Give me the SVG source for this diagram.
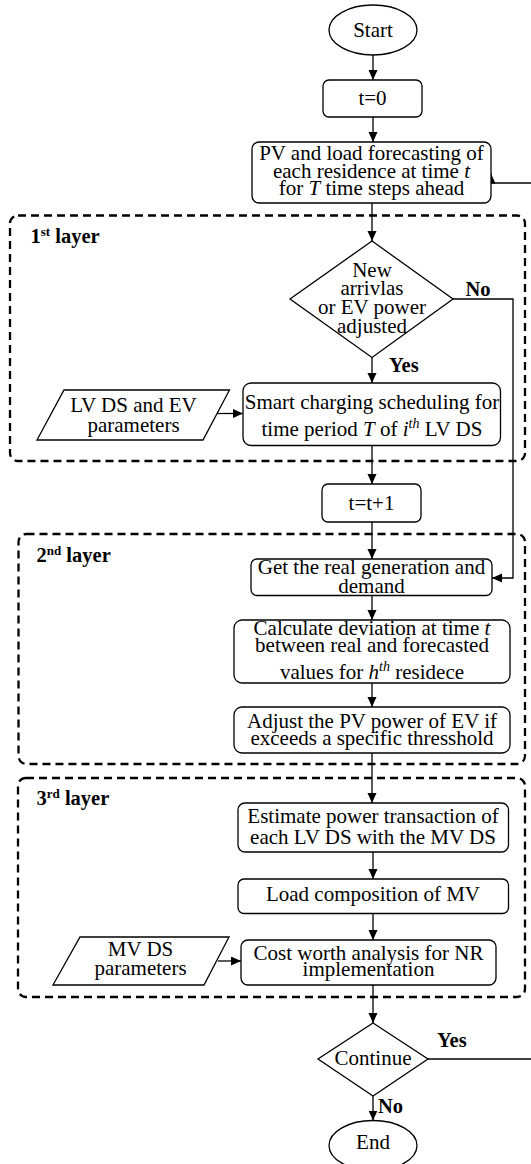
<svg xmlns="http://www.w3.org/2000/svg" width="531" height="1164" viewBox="0 0 531 1164">
<style>
.bg{fill:#fff}
.n{fill:#fff;stroke:#000;stroke-width:1.3}
.lay{fill:none;stroke:#000;stroke-width:2.3;stroke-dasharray:8 5}
.c{fill:none;stroke:#000;stroke-width:1.3}
text{font-family:"Liberation Serif","Times New Roman",serif;font-size:21px;fill:#000}
.m{text-anchor:middle}
.b{font-weight:bold;font-size:20.5px}
.i{font-style:italic}
</style>
<defs>
<marker id="ah" markerWidth="10" markerHeight="10" refX="10" refY="4.5" orient="auto" markerUnits="userSpaceOnUse"><path d="M0,0 L10,4.5 L0,9 z" fill="#000"/></marker>
</defs>
<rect class="bg" x="0" y="0" width="531" height="1164"/>

<g id="layers">
<rect class="lay" x="10" y="215.5" width="515" height="245.5" rx="8"/>
<text class="b" x="30.5" y="242.5">1<tspan dy="-7" font-size="13">st</tspan><tspan dy="7"> layer</tspan></text>
<rect class="lay" x="18.5" y="534" width="506.5" height="230" rx="8"/>
<text class="b" x="36.5" y="562">2<tspan dy="-7" font-size="13">nd</tspan><tspan dy="7"> layer</tspan></text>
<rect class="lay" x="18" y="778" width="507" height="219" rx="8"/>
<text class="b" x="36.5" y="804.5">3<tspan dy="-7" font-size="13">rd</tspan><tspan dy="7"> layer</tspan></text>
</g>

<g id="connectors">
<line class="c" x1="373" y1="55" x2="373" y2="80" marker-end="url(#ah)"/>
<line class="c" x1="373" y1="117" x2="373" y2="142" marker-end="url(#ah)"/>
<line class="c" x1="372" y1="203" x2="372" y2="241" marker-end="url(#ah)"/>
<line class="c" x1="372" y1="357.5" x2="372" y2="383" marker-end="url(#ah)"/>
<polyline class="c" points="453,299 513,299 513,578 492,578" marker-end="url(#ah)"/>
<line class="c" x1="372" y1="445.5" x2="372" y2="484" marker-end="url(#ah)"/>
<line class="c" x1="372" y1="522" x2="372" y2="559" marker-end="url(#ah)"/>
<line class="c" x1="372" y1="595.5" x2="372" y2="620" marker-end="url(#ah)"/>
<line class="c" x1="372" y1="683" x2="372" y2="707" marker-end="url(#ah)"/>
<line class="c" x1="372" y1="753" x2="372" y2="803" marker-end="url(#ah)"/>
<line class="c" x1="373" y1="852" x2="373" y2="879" marker-end="url(#ah)"/>
<line class="c" x1="373" y1="913.5" x2="373" y2="940" marker-end="url(#ah)"/>
<line class="c" x1="373" y1="985" x2="373" y2="1023" marker-end="url(#ah)"/>
<line class="c" x1="373" y1="1096" x2="373" y2="1120.5" marker-end="url(#ah)"/>
<line class="c" x1="217" y1="413.5" x2="243" y2="413.5" marker-end="url(#ah)"/>
<line class="c" x1="218" y1="961" x2="241" y2="961" marker-end="url(#ah)"/>
<line class="c" x1="428" y1="1059" x2="531" y2="1059"/>
<line class="c" x1="531" y1="183" x2="491" y2="183"/>
<line class="c" x1="491" y1="184" x2="491" y2="173.5" marker-end="url(#ah)"/>
<text class="b" x="465.5" y="295.5">No</text>
<text class="b" x="389" y="372">Yes</text>
<text class="b" x="437" y="1047">Yes</text>
<text class="b" x="378" y="1113">No</text>
</g>

<g id="start">
<ellipse class="n" cx="373" cy="30" rx="44" ry="25"/>
<text class="m" x="373" y="37">Start</text>
</g>

<g id="t0">
<rect class="n" x="323" y="80" width="99" height="37" rx="6"/>
<text class="m" x="372.5" y="105">t=0</text>
</g>

<g id="forecast">
<rect class="n" x="252" y="142" width="239" height="61" rx="7"/>
<text class="m" x="371.5" y="160">PV and load forecasting of</text>
<text class="m" x="371.5" y="177.5">each residence at time <tspan class="i">t</tspan></text>
<text class="m" x="371.5" y="195">for <tspan class="i">T</tspan> time steps ahead</text>
</g>

<g id="decision1">
<polygon class="n" points="372,241 453,299 372,357.5 290,299"/>
<text class="m" x="372" y="276.5">New</text>
<text class="m" x="372" y="295">arrivlas</text>
<text class="m" x="372" y="314">or EV power</text>
<text class="m" x="372" y="332.5">adjusted</text>
</g>

<g id="lvparams">
<polygon class="n" points="64,390 229.5,390 203,440 37,440"/>
<text class="m" x="133.5" y="412">LV DS and EV</text>
<text class="m" x="133.5" y="431.5">parameters</text>
</g>

<g id="smart">
<rect class="n" x="243" y="383" width="257.5" height="62.5" rx="8"/>
<text class="m" x="372" y="408.5">Smart charging scheduling for</text>
<text class="m" x="372" y="435.5">time period <tspan class="i">T</tspan> of <tspan class="i">i</tspan><tspan class="i" dy="-8" font-size="14">th</tspan><tspan dy="8"> LV DS</tspan></text>
</g>

<g id="tinc">
<rect class="n" x="322" y="484" width="99" height="38" rx="6"/>
<text class="m" x="371.5" y="509.5">t=t+1</text>
</g>

<g id="realgen">
<rect class="n" x="251" y="559" width="241" height="36.5" rx="6"/>
<text class="m" x="371.5" y="573.5">Get the real generation and</text>
<text class="m" x="371.5" y="593">demand</text>
</g>

<g id="deviation">
<rect class="n" x="234" y="620" width="276" height="63" rx="8"/>
<text class="m" x="372" y="634.5">Calculate deviation at time <tspan class="i">t</tspan></text>
<text class="m" x="372" y="652">between real and forecasted</text>
<text class="m" x="372" y="678.5">values for <tspan class="i">h</tspan><tspan class="i" dy="-8" font-size="14">th</tspan><tspan dy="8"> residece</tspan></text>
</g>

<g id="adjust">
<rect class="n" x="234" y="707" width="276" height="46" rx="8"/>
<text class="m" x="372" y="728">Adjust the PV power of EV if</text>
<text class="m" x="372" y="744.5">exceeds a specific thresshold</text>
</g>

<g id="estimate">
<rect class="n" x="238" y="803" width="270.5" height="49" rx="7"/>
<text class="m" x="373" y="823">Estimate power transaction of</text>
<text class="m" x="373" y="843.5">each LV DS with the MV DS</text>
</g>

<g id="loadcomp">
<rect class="n" x="238" y="879" width="270.5" height="34.5" rx="6"/>
<text class="m" x="373" y="901">Load composition of MV</text>
</g>

<g id="mvparams">
<polygon class="n" points="80,937 229,937 204,985 53,985"/>
<text class="m" x="140.5" y="956">MV DS</text>
<text class="m" x="140.5" y="975">parameters</text>
</g>

<g id="cost">
<rect class="n" x="241" y="940" width="255" height="45" rx="7"/>
<text class="m" x="368.5" y="960">Cost worth analysis for NR</text>
<text class="m" x="368.5" y="975.5">implementation</text>
</g>

<g id="continue">
<polygon class="n" points="373,1023 428,1059 373,1096 318,1059"/>
<text class="m" x="373" y="1065">Continue</text>
</g>

<g id="end">
<ellipse class="n" cx="373" cy="1145.5" rx="44" ry="25"/>
<text class="m" x="373" y="1149">End</text>
</g>
</svg>
